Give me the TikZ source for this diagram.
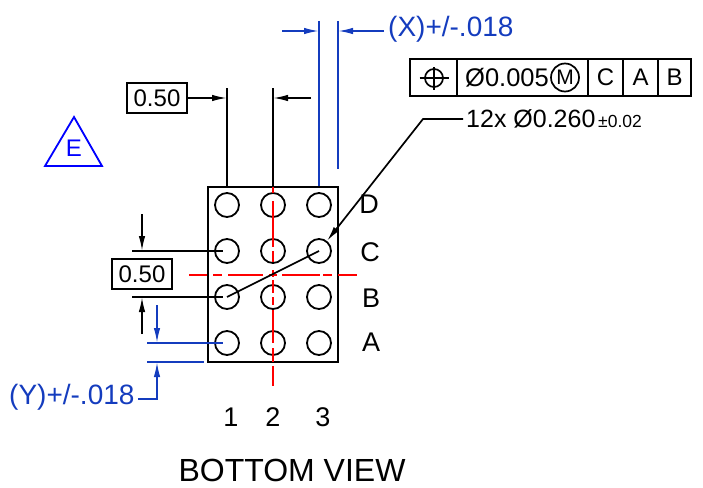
\documentclass[tikz,border=0pt]{standalone}
\usepackage{fontspec}
\setmainfont{Liberation Sans}
\usetikzlibrary{arrows.meta}
\definecolor{dimblue}{RGB}{20, 60, 190}
\definecolor{datumblue}{RGB}{0, 0, 255}
\tikzset{
	pad/.style={circle,draw,line width=1.8pt,minimum size=24pt,inner sep=0pt},
	dimline/.style={line width=1.7pt},
	dimarrow/.style={line width=1.7pt,-{Latex[length=15pt,width=6.5pt]}},
	smalllabel/.style={inner sep=0pt,font=\fontsize{24}{24}\selectfont},
	biglabel/.style={inner sep=0pt,font=\fontsize{27}{27}\selectfont},
	tollabel/.style={inner sep=0pt,anchor=west,text=dimblue,font=\fontsize{28}{28}\selectfont},
	tolbox/.style={draw,line width=1.7pt,minimum width=60pt,minimum height=30pt,inner sep=0pt,font=\fontsize{24}{24}\selectfont},
	redseg/.style={red,line width=2pt},
}
\begin{document}
\begin{tikzpicture}[x=1pt,y=-1pt]
	\useasboundingbox (0,0) rectangle (703,487);
	% package and balls
	\node[draw,line width=1.7pt,minimum width=130pt,minimum height=175pt,inner sep=0pt] (package) at (273,274.5) {};
	\foreach \name/\row in {A/343,B/297,C/251,D/205}{
		\foreach \col/\xpos in {1/227,2/273,3/319}{
			\node[pad] (pad\name\col) at (\xpos,\row) {};
		}
	}
	% center lines
	\foreach \xa/\xb in {189/207,213/222,228/263,269/277,282/320,323/332,338/357}{
		\draw[redseg] (\xa,275) -- (\xb,275);
	}
	\foreach \ya/\yb in {187/193,201/247,251/262,270/277,280/293,297/305,310/343,348/362,366/386}{
		\draw[redseg] (273,\ya) -- (273,\yb);
	}
	% ball labels
	\node[biglabel] (rowD) at (369,204) {D};
	\node[biglabel] (rowC) at (370,252) {C};
	\node[biglabel] (rowB) at (371,298) {B};
	\node[biglabel] (rowA) at (371,342) {A};
	\node[biglabel] (col1) at (231,417) {1};
	\node[biglabel] (col2) at (273,417) {2};
	\node[biglabel] (col3) at (323,417) {3};
	\node[inner sep=0pt,font=\fontsize{32}{32}\selectfont] (title) at (292,470) {BOTTOM VIEW};
	% datum
	\coordinate (apex) at (74,117);
	\draw[datumblue,line width=1.8pt,line join=miter] (apex) -- (102,166) -- (45,166) -- cycle;
	\node[smalllabel,text=datumblue] (datum) at (74,148) {E};
	% pitch x
	\node[tolbox] (pitchx) at (157,98) {0.50};
	\coordinate (topA) at (227,88);
	\coordinate (topB) at (273,88);
	\coordinate (arrowB) at (311,98);
	\draw[dimline] (topA) -- (package.north -| topA);
	\draw[dimline] (topB) -- (package.north -| topB);
	\draw[dimarrow] (pitchx.east) -- (pitchx.east -| topA);
	\draw[dimarrow] (arrowB) -- (arrowB -| topB);
	% pitch y
	\node[tolbox] (pitchy) at (142,274) {0.50};
	\coordinate (leftC) at (132,251);
	\coordinate (leftB) at (132,297);
	\coordinate (arrowC) at (142,214);
	\coordinate (arrowD) at (142,334);
	\draw[dimline] (leftC) -- (223,251);
	\draw[dimline] (leftB) -- (223,297);
	\draw[dimarrow] (arrowC) -- (arrowC |- leftC);
	\draw[dimarrow] (arrowD) -- (arrowD |- leftB);
	% x tolerance
	\node[tollabel] (tolx) at (388,29) {(X)+/-.018};
	\coordinate (xtop) at (319,21);
	\coordinate (xend) at (338,21);
	\coordinate (xtail) at (282,31);
	\draw[dimblue,dimline] (xtop) -- (package.north -| xtop);
	\draw[dimblue,dimline] (xend) -- (338,169);
	\draw[dimblue,dimarrow] (xtail) -- (xtail -| xtop);
	\draw[dimblue,dimarrow] (384,31) -- (338,31);
	% y tolerance
	\node[tollabel] (toly) at (9,397) {(Y)+/-.018};
	\coordinate (yupper) at (147,343);
	\coordinate (ylower) at (147,362);
	\coordinate (ytail) at (157,305);
	\draw[dimblue,dimline] (yupper) -- (223,343);
	\draw[dimblue,dimline] (ylower) -- (204,362);
	\draw[dimblue,dimarrow] (ytail) -- (ytail |- yupper);
	\draw[dimblue,dimarrow] (138,399) -- (157,399) -- (157,362);
	% feature control frame
	\node[draw,line width=1.7pt,minimum width=281pt,minimum height=37pt,inner sep=0pt] (frame) at (550.5,77.5) {};
	\foreach \xpos in {457,588,623,658}{
		\draw[line width=1.7pt] (\xpos,59) -- (\xpos,96);
	}
	\node[circle,draw,line width=1.7pt,minimum size=18pt,inner sep=0pt] (posring) at (434,78) {};
	\draw[line width=1.7pt] (419.5,78) -- (448.5,78) (434,67) -- (434,90);
	\node[anchor=west,inner sep=0pt,font=\fontsize{25.5}{25.5}\selectfont] (tolval) at (465,77.5) {Ø0.005};
	\node[circle,draw,line width=1.7pt,minimum size=28pt,inner sep=0pt,font=\fontsize{21}{21}\selectfont] (mmc) at (565,77.5) {M};
	\node[smalllabel] (datC) at (605.5,77.5) {C};
	\node[smalllabel] (datA) at (640.5,77.5) {A};
	\node[smalllabel] (datB) at (674.5,77.5) {B};
	% hole callout
	\node[anchor=west,inner sep=0pt,font=\fontsize{25}{25}\selectfont] (callout) at (466,119) {12x Ø0.260};
	\node[inner sep=0pt,anchor=west,font=\fontsize{17.5}{17.5}\selectfont] (calltol) at (598,121) {±0.02};
	\coordinate (bend) at (423,119);
	\draw[dimarrow] (463,119) -- (bend) -- (padC3);
	\draw[dimline] (padC3.center) -- (padB1.center);
\end{tikzpicture}
\end{document}
